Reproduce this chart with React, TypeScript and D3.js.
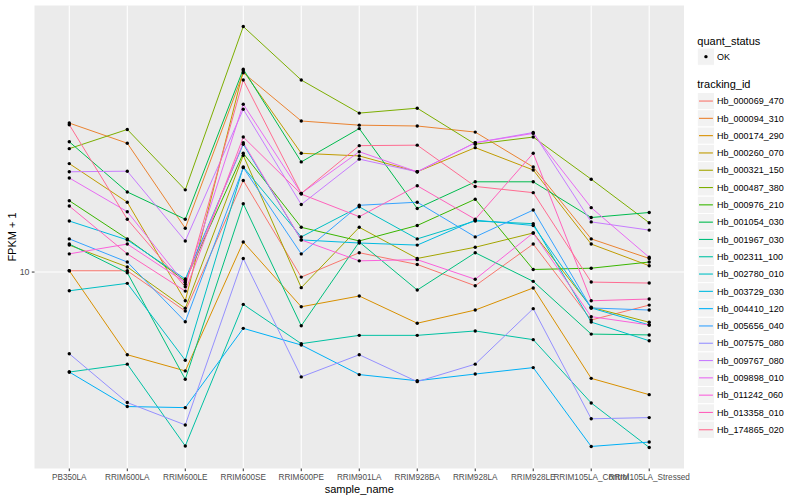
import { useEffect, useRef } from 'react'
import * as d3 from 'd3'

const samples = [
  'PB350LA', 'RRIM600LA', 'RRIM600LE', 'RRIM600SE', 'RRIM600PE', 'RRIM901LA',
  'RRIM928BA', 'RRIM928LA', 'RRIM928LE', 'RRIM105LA_Control', 'RRIM105LA_Stressed',
]

const trackingIds = [
  'Hb_000069_470', 'Hb_000094_310', 'Hb_000174_290', 'Hb_000260_070', 'Hb_000321_150',
  'Hb_000487_380', 'Hb_000976_210', 'Hb_001054_030', 'Hb_001967_030', 'Hb_002311_100',
  'Hb_002780_010', 'Hb_003729_030', 'Hb_004410_120', 'Hb_005656_040', 'Hb_007575_080',
  'Hb_009767_080', 'Hb_009898_010', 'Hb_011242_060', 'Hb_013358_010', 'Hb_174865_020',
]

// FPKM + 1, one value per sample (same order as samples)
const hb_000069_470 = [10.1, 10.1, 7.41, 20.2, 9.62, 11.6, 10.6, 9.0, 12.4, 6.92, 7.76]
const hb_000094_310 = [31.4, 26.9, 14.0, 46.2, 31.9, 30.9, 30.7, 29.3, 22.4, 12.9, 11.1]
const hb_000174_290 = [10.1, 5.3, 4.68, 12.6, 7.66, 8.32, 6.75, 7.47, 8.85, 4.42, 3.9]
const hb_000260_070 = [23.0, 17.1, 8.02, 46.9, 24.9, 24.4, 21.6, 26.0, 21.9, 12.4, 10.5]
const hb_000321_150 = [12.3, 10.4, 7.57, 24.5, 8.87, 14.1, 11.1, 12.1, 13.5, 7.63, 6.8]
const hb_000487_380 = [25.8, 29.9, 18.8, 65.9, 43.7, 33.9, 35.2, 26.7, 28.2, 20.4, 14.6]
const hb_000976_210 = [17.3, 12.9, 9.35, 24.9, 14.1, 12.7, 14.3, 17.5, 10.2, 10.3, 10.8]
const hb_001054_030 = [27.2, 18.5, 15.0, 47.5, 23.3, 30.1, 16.3, 20.0, 20.0, 15.2, 15.8]
const hb_001967_030 = [12.4, 9.95, 4.39, 16.9, 6.62, 12.6, 8.71, 11.6, 9.31, 6.21, 6.17]
const hb_002311_100 = [4.64, 4.93, 2.63, 7.8, 5.77, 6.15, 6.15, 6.36, 5.95, 3.66, 2.6]
const hb_002780_010 = [8.66, 9.17, 5.08, 22.4, 13.1, 16.5, 12.9, 14.8, 14.5, 6.81, 5.9]
const hb_003729_030 = [14.8, 12.8, 9.48, 26.7, 12.8, 12.5, 12.3, 14.9, 14.3, 7.59, 6.66]
const hb_004410_120 = [4.64, 3.56, 3.53, 6.49, 5.71, 4.55, 4.34, 4.57, 4.8, 2.62, 2.71]
const hb_005656_040 = [12.9, 10.8, 6.83, 22.3, 11.5, 16.7, 17.1, 13.1, 16.1, 7.59, 7.47]
const hb_007575_080 = [5.34, 3.67, 3.09, 11.1, 4.47, 5.3, 4.31, 4.93, 7.55, 3.24, 3.27]
const hb_009767_080 = [21.6, 21.7, 12.7, 34.9, 16.8, 23.8, 21.6, 27.0, 29.2, 14.7, 13.8]
const hb_009898_010 = [20.6, 15.9, 9.1, 36.3, 18.3, 25.2, 21.6, 27.0, 29.0, 16.4, 11.2]
const hb_011242_060 = [11.5, 12.4, 9.24, 27.0, 12.8, 10.9, 11.0, 9.46, 13.5, 7.1, 6.66]
const hb_013358_010 = [16.6, 11.5, 8.64, 28.2, 18.2, 15.3, 19.4, 15.0, 24.9, 8.02, 8.13]
const hb_174865_020 = [31.0, 15.0, 8.93, 43.7, 18.3, 26.4, 26.5, 19.3, 18.4, 9.26, 9.19]

const seriesValues = [
  hb_000069_470, hb_000094_310, hb_000174_290, hb_000260_070, hb_000321_150,
  hb_000487_380, hb_000976_210, hb_001054_030, hb_001967_030, hb_002311_100,
  hb_002780_010, hb_003729_030, hb_004410_120, hb_005656_040, hb_007575_080,
  hb_009767_080, hb_009898_010, hb_011242_060, hb_013358_010, hb_174865_020,
]

const yBreaks = [10]
const quantStatus = ['OK']

// ggplot2 default hue palette, 20 levels
const HUE20 = [
  '#F8766D', '#EA8331', '#D89000', '#C09B00', '#A3A500', '#7CAE00', '#39B600',
  '#00BB4E', '#00BF7D', '#00C1A3', '#00BFC4', '#00BAE0', '#00B0F6', '#35A2FF',
  '#9590FF', '#C77CFF', '#E76BF3', '#FA62DB', '#FF62BC', '#FF6C91',
]

const FONT = '"Liberation Sans", Arial, Helvetica, sans-serif'

export default function App() {
  const svgRef = useRef<SVGSVGElement>(null)

  useEffect(() => {
    if (!svgRef.current) return
    const svg = d3.select(svgRef.current)
    svg.selectAll('*').remove()

    const width = 800
    const height = 500
    const panel = { left: 34.5, right: 684, top: 5.5, bottom: 468.5 }

    svg.attr('width', width).attr('height', height).style('font-family', FONT)
    svg.append('rect').attr('width', width).attr('height', height).attr('fill', '#fff')

    const x = d3.scalePoint<string>()
      .domain(samples)
      .range([panel.left, panel.right])
      .padding(0.6)

    // log10 scale, expanded 5% each side like ggplot
    const all = seriesValues.flat()
    const lo = Math.log10(d3.min(all) as number)
    const hi = Math.log10(d3.max(all) as number)
    const pad = (hi - lo) * 0.05
    const y = d3.scaleLog()
      .domain([Math.pow(10, lo - pad), Math.pow(10, hi + pad)])
      .range([panel.bottom, panel.top])

    // panel + grid
    svg.append('rect')
      .attr('x', panel.left).attr('y', panel.top)
      .attr('width', panel.right - panel.left).attr('height', panel.bottom - panel.top)
      .attr('fill', '#EBEBEB')

    svg.append('g').selectAll('line')
      .data(yBreaks)
      .enter().append('line')
      .attr('x1', panel.left).attr('x2', panel.right)
      .attr('y1', d => y(d)).attr('y2', d => y(d))
      .attr('stroke', '#fff').attr('stroke-width', 1.1)

    svg.append('g').selectAll('line')
      .data(samples)
      .enter().append('line')
      .attr('x1', d => x(d) as number).attr('x2', d => x(d) as number)
      .attr('y1', panel.top).attr('y2', panel.bottom)
      .attr('stroke', '#fff').attr('stroke-width', 1.1)

    // lines
    const line = d3.line<number>()
      .x((_, i) => x(samples[i]) as number)
      .y(d => y(d))

    svg.append('g').selectAll('path')
      .data(seriesValues)
      .enter().append('path')
      .attr('d', d => line(d))
      .attr('fill', 'none')
      .attr('stroke', (_, i) => HUE20[i])
      .attr('stroke-width', 1)

    // points
    const pts = seriesValues.flatMap(vals => vals.map((v, i) => ({ s: samples[i], v })))
    svg.append('g').selectAll('circle')
      .data(pts)
      .enter().append('circle')
      .attr('cx', d => x(d.s) as number)
      .attr('cy', d => y(d.v))
      .attr('r', 1.7)
      .attr('fill', '#000')

    // y axis
    const yAxis = svg.append('g')
    yBreaks.forEach(b => {
      yAxis.append('line')
        .attr('x1', panel.left - 2.7).attr('x2', panel.left)
        .attr('y1', y(b)).attr('y2', y(b))
        .attr('stroke', '#333').attr('stroke-width', 1)
      yAxis.append('text')
        .attr('x', panel.left - 5).attr('y', y(b) + 3.1)
        .attr('text-anchor', 'end')
        .style('font-size', '8.8px').attr('fill', '#4D4D4D')
        .text(String(b))
    })

    // x axis
    const xAxis = svg.append('g')
    samples.forEach(s => {
      xAxis.append('line')
        .attr('x1', x(s) as number).attr('x2', x(s) as number)
        .attr('y1', panel.bottom).attr('y2', panel.bottom + 2.7)
        .attr('stroke', '#333').attr('stroke-width', 1)
      xAxis.append('text')
        .attr('x', x(s) as number).attr('y', panel.bottom + 11.5)
        .attr('text-anchor', 'middle')
        .style('font-size', '8.2px').attr('fill', '#4D4D4D')
        .text(s)
    })

    svg.append('text')
      .attr('x', (panel.left + panel.right) / 2).attr('y', 493)
      .attr('text-anchor', 'middle')
      .style('font-size', '11px').attr('fill', '#000')
      .text('sample_name')

    svg.append('text')
      .attr('transform', `translate(16,${(panel.top + panel.bottom) / 2}) rotate(-90)`)
      .attr('text-anchor', 'middle')
      .style('font-size', '11px').attr('fill', '#000')
      .text('FPKM + 1')

    // legends
    const lx = 697.3
    const key = 17.3
    const leg = svg.append('g')

    leg.append('text')
      .attr('x', lx).attr('y', 44.5)
      .style('font-size', '11px').text('quant_status')
    quantStatus.forEach((q, i) => {
      const ky = 48 + i * key
      leg.append('rect')
        .attr('x', lx).attr('y', ky).attr('width', key).attr('height', key)
        .attr('fill', '#F2F2F2').attr('stroke', '#fff')
      leg.append('circle')
        .attr('cx', lx + key / 2).attr('cy', ky + key / 2).attr('r', 1.7).attr('fill', '#000')
      leg.append('text')
        .attr('x', lx + key + 2.5).attr('y', ky + key / 2 + 3.2)
        .style('font-size', '9px').text(q)
    })

    leg.append('text')
      .attr('x', lx).attr('y', 88.3)
      .style('font-size', '11px').text('tracking_id')
    trackingIds.forEach((id, i) => {
      const ky = 92.4 + i * key
      leg.append('rect')
        .attr('x', lx).attr('y', ky).attr('width', key).attr('height', key)
        .attr('fill', '#F2F2F2').attr('stroke', '#fff')
      leg.append('line')
        .attr('x1', lx + 1.7).attr('x2', lx + key - 1.7)
        .attr('y1', ky + key / 2).attr('y2', ky + key / 2)
        .attr('stroke', HUE20[i]).attr('stroke-width', 1.1)
      leg.append('text')
        .attr('x', lx + key + 2.5).attr('y', ky + key / 2 + 3.2)
        .style('font-size', '9px').text(id)
    })
  }, [])

  return (
    <svg
      ref={svgRef}
      style={{ position: 'absolute', left: 0, top: 0, display: 'block' }}
    />
  )
}
